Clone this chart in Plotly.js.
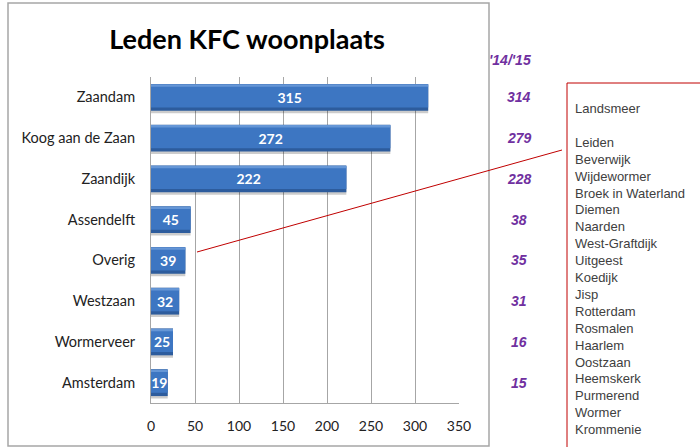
<!DOCTYPE html>
<html><head><meta charset="utf-8">
<script src="https://cdn.plot.ly/plotly-3.0.1.min.js"></script>
<style>html,body{margin:0;padding:0;background:#fff}#chart{width:700px;height:447px}</style>
</head><body><div id="chart"></div>
<script>
const categories = ['Zaandam','Koog aan de Zaan','Zaandijk','Assendelft','Overig','Westzaan','Wormerveer','Amsterdam'];
const members = [315,272,222,45,39,32,25,19];
const prevLabel = "'14/'15";
const prevMembers = [314,279,228,38,35,31,16,15];
const otherPlaces = ['Landsmeer','','Leiden','Beverwijk','Wijdewormer','Broek in Waterland','Diemen','Naarden','West-Graftdijk','Uitgeest','Koedijk','Jisp','Rotterdam','Rosmalen','Haarlem','Oostzaan','Heemskerk','Purmerend','Wormer','Krommenie'];
const xTicks = [0,50,100,150,200,250,300,350];
const chartTitle = 'Leden KFC woonplaats';

const L=151,R=459,T=77,B=403;
function px(x){return (x-L)/(R-L);}
function py(y){return 1-(y-T)/(B-T);}

const base = {type:'bar', orientation:'h', x:members, y:categories, hoverinfo:'skip', showlegend:false};
const traces = [
  Object.assign({}, base, {width:0.66, offset:-0.27, marker:{color:'rgba(0,0,0,0.2)'}}),
  Object.assign({}, base, {width:0.66, offset:-0.33, marker:{color:'#2D5C9D'}}),
  Object.assign({}, base, {width:0.56, offset:-0.31, marker:{color:'#3D76C2'}}),
  Object.assign({}, base, {width:0.06, offset:-0.32, marker:{color:'#6596D6'}}),
  Object.assign({}, base, {width:0.66, offset:-0.33, marker:{color:'rgba(0,0,0,0)'},
    text:members.map(String), textposition:'inside', insidetextanchor:'middle', constraintext:'none',
    insidetextfont:{family:'Lato', size:14, color:'#ffffff', weight:'bold'}, cliponaxis:false})
];

const annotations = [];
annotations.push({xref:'paper', yref:'paper', x:px(510), y:py(60), text:'<b><i>'+prevLabel+'</i></b>', showarrow:false,
  xanchor:'center', yanchor:'middle', font:{family:'Liberation Sans', size:14, color:'#7030A0'}});
prevMembers.forEach((v,i)=>{
  annotations.push({xref:'paper', yref:'y', x:px(519), y:categories[i], text:'<b><i>'+v+'</i></b>', showarrow:false,
    xanchor:'center', yanchor:'middle', font:{family:'Liberation Sans', size:14, color:'#7030A0'}});
});
annotations.push({xref:'paper', yref:'paper', x:px(573), y:py(99), text:otherPlaces.map(s=>s||'&nbsp;').join('<br>'),
  showarrow:false, xanchor:'left', yanchor:'top', align:'left',
  font:{family:'Liberation Sans', size:13, color:'#404040'}});

const shapes = [
  {type:'rect', xref:'paper', yref:'paper', x0:px(8), x1:px(489), y0:py(446), y1:py(3), line:{color:'#A6A6A6', width:1.5}},
  {type:'path', xref:'paper', yref:'paper', path:`M ${px(567)},${py(452)} L ${px(567)},${py(83)} L ${px(705)},${py(83)}`, line:{color:'#C00000', width:1}},
  {type:'line', xref:'paper', yref:'paper', x0:px(197), y0:py(252), x1:px(562), y1:py(150), line:{color:'#C00000', width:1}}
];

const layout = {
  width:700, height:447,
  margin:{l:L, r:700-R, t:T, b:447-B},
  paper_bgcolor:'#ffffff', plot_bgcolor:'#ffffff',
  barmode:'overlay',
  title:{text:'<b>'+chartTitle+'</b>', font:{family:'Lato', size:27, color:'#000'}, xref:'paper', x:px(247), xanchor:'center',
    yref:'container', y:1-40/447, yanchor:'middle'},
  xaxis:{range:[0,350], tickvals:xTicks, ticks:'', showgrid:true, gridcolor:'#A6A6A6', gridwidth:1,
    showline:true, linecolor:'#A6A6A6', linewidth:1, zeroline:false, ticklabelstandoff:10,
    tickfont:{family:'Lato', size:14, color:'#222'}, fixedrange:true},
  yaxis:{type:'category', autorange:'reversed', showline:true, linecolor:'#A6A6A6', linewidth:1, ticks:'',
    showgrid:false, ticklabelstandoff:12, tickfont:{family:'Lato', size:14.5, color:'#222'}, fixedrange:true},
  annotations, shapes, hovermode:false, showlegend:false
};
Plotly.newPlot('chart', traces, layout, {staticPlot:true, displayModeBar:false});
</script></body></html>
